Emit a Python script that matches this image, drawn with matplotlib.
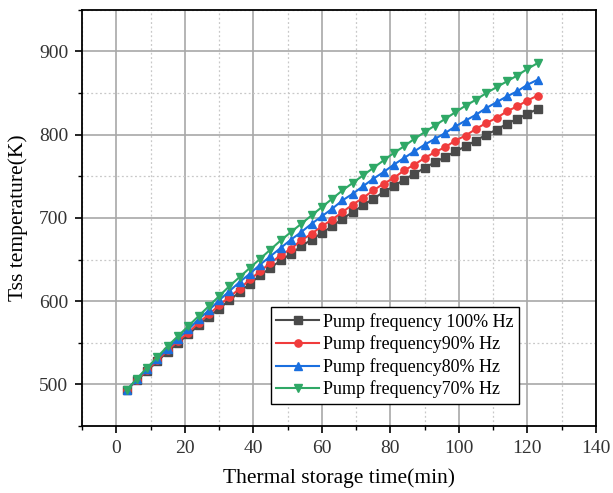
import matplotlib

matplotlib.use("Agg")
from matplotlib import pyplot as plt
from matplotlib.ticker import MultipleLocator

# thermal storage time (min)
time_min = list(range(3, 124, 3))

# Tss temperature (K) for each pump frequency
temp_100 = [493, 505, 516, 528, 539, 550, 560, 571, 581, 591, 601, 611, 621, 631,
            640, 649, 657, 666, 674, 682, 690, 699, 707, 715, 723, 731, 738, 746,
            753, 760, 767, 773, 780, 786, 793, 800, 806, 813, 819, 825, 831]
temp_90 = [493, 505, 517, 529, 541, 552, 562, 574, 584, 595, 605, 615, 626, 636,
           646, 655, 663, 673, 681, 690, 698, 707, 716, 724, 733, 741, 748, 757,
           764, 772, 779, 785, 793, 799, 807, 814, 820, 828, 834, 841, 847]
temp_80 = [493, 506, 519, 531, 543, 555, 566, 578, 589, 601, 612, 623, 633, 644,
           654, 664, 674, 683, 693, 702, 711, 721, 729, 738, 747, 755, 764, 772,
           780, 788, 795, 802, 810, 817, 824, 832, 839, 846, 852, 860, 866]
temp_70 = [493, 507, 520, 533, 546, 558, 570, 582, 594, 606, 618, 629, 640, 651,
           662, 673, 683, 693, 703, 713, 723, 733, 742, 751, 760, 769, 778, 786,
           795, 803, 811, 819, 827, 835, 842, 850, 857, 864, 871, 879, 886]

labels = [
    "Pump frequency 100% Hz",
    "Pump frequency90% Hz",
    "Pump frequency80% Hz",
    "Pump frequency70% Hz",
]
series = [temp_100, temp_90, temp_80, temp_70]
colors = ["#4a4a4a", "#f03c3c", "#1a6fdf", "#2fa866"]
markers = ["s", "o", "^", "v"]

plt.rcParams["font.family"] = ["Liberation Serif", "DejaVu Serif"]

fig = plt.figure(figsize=(6.13, 4.93), dpi=100)
ax = fig.add_axes([0.134, 0.136, 0.838, 0.844])

for vals, lab, col, mk in zip(series, labels, colors, markers):
    ax.plot(time_min, vals, color=col, marker=mk, markersize=5.2,
            linewidth=1.5, label=lab)

ax.set_xlim(-10, 140)
ax.set_ylim(450, 950)
ax.xaxis.set_major_locator(MultipleLocator(20))
ax.xaxis.set_minor_locator(MultipleLocator(10))
ax.yaxis.set_major_locator(MultipleLocator(100))
ax.yaxis.set_minor_locator(MultipleLocator(50))
ax.set_yticks([500, 600, 700, 800, 900])

ax.grid(which="major", color="#a8a8a8", linewidth=1.2, linestyle="-")
ax.grid(which="minor", color="#c8c8c8", linewidth=0.9, linestyle=(0, (1.5, 2)))
ax.set_axisbelow(True)

for s in ax.spines.values():
    s.set_linewidth(1.3)
ax.tick_params(which="major", direction="out", length=5, width=1.2,
               labelsize=14, colors="black", labelcolor="#333333", pad=5)
ax.tick_params(which="minor", direction="out", length=3, width=1.0)

ax.set_xlabel("Thermal storage time(min)", fontsize=15.5, labelpad=8)
ax.set_ylabel("Tss temperature(K)", fontsize=15.5, labelpad=8)

leg = ax.legend(loc="lower left", bbox_to_anchor=(0.367, 0.053),
                borderaxespad=0, fontsize=13, fancybox=False, framealpha=1,
                edgecolor="black", handlelength=2.4, labelspacing=0.26,
                handletextpad=0.2, borderpad=0.3)
leg.get_frame().set_linewidth(1.0)

fig.savefig("out.png", dpi=100)
